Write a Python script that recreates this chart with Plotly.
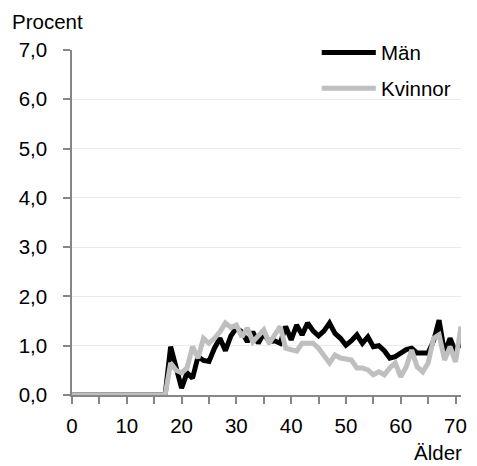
import plotly.graph_objects as go

ages = list(range(0, 72))
man = [0.0]*18 + [
    0.98, 0.55, 0.14, 0.45, 0.34, 0.78, 0.70, 0.68, 0.95, 1.15,
    0.90, 1.20, 1.36, 1.28, 1.08, 1.28, 1.05, 1.25, 1.08, 1.10,
    1.05, 1.39, 1.12, 1.42, 1.22, 1.46, 1.30, 1.20, 1.30, 1.46,
    1.25, 1.15, 1.01, 1.10, 1.22, 1.05, 1.18, 0.98, 1.00, 0.90,
    0.75, 0.78, 0.85, 0.92, 0.95, 0.85, 0.85, 0.85, 1.10, 1.52,
    0.85, 1.15, 0.88, 1.08]
kvinnor = [0.0]*18 + [
    0.65, 0.50, 0.45, 0.55, 0.98, 0.75, 1.15, 1.05, 1.15, 1.28,
    1.46, 1.37, 1.42, 1.18, 1.36, 1.08, 1.20, 1.32, 1.05, 1.20,
    1.39, 0.95, 0.92, 0.89, 1.05, 1.05, 1.05, 0.95, 0.81, 0.65,
    0.81, 0.75, 0.73, 0.71, 0.55, 0.55, 0.51, 0.41, 0.47, 0.41,
    0.55, 0.65, 0.37, 0.57, 0.91, 0.57, 0.47, 0.65, 1.15, 1.22,
    0.71, 0.98, 0.67, 1.39]

series_names = ["Män", "Kvinnor"]
series_colors = ["#000000", "#bfbfbf"]

y_ticks = [0, 1, 2, 3, 4, 5, 6, 7]
y_labels = ["0,0", "1,0", "2,0", "3,0", "4,0", "5,0", "6,0", "7,0"]
x_ticks = [0, 10, 20, 30, 40, 50, 60, 70]
x_labels = ["0", "10", "20", "30", "40", "50", "60", "70"]
x_minor = [5, 15, 25, 35, 45, 55, 65]

FONT = "Liberation Sans, Arial, sans-serif"
FS = 20.5

fig = go.Figure()
for name, vals, col in zip(series_names, [man, kvinnor], series_colors):
    fig.add_trace(go.Scatter(x=ages, y=vals, mode="lines", name=name,
                             line=dict(color=col, width=5)))

# manual legend (long line samples as in the reference)
shapes = []
annotations = []
leg_y = [0.993, 0.889]
for name, col, yy in zip(series_names, series_colors, leg_y):
    shapes.append(dict(type="line", xref="paper", yref="paper",
                       x0=0.642, x1=0.781, y0=yy, y1=yy,
                       line=dict(color=col, width=5)))
    annotations.append(dict(text=name, xref="paper", yref="paper", x=0.789, y=yy,
                            xanchor="left", yanchor="middle", showarrow=False,
                            font=dict(size=FS)))

annotations.append(dict(text="Procent", xref="paper", yref="paper", x=-0.16, y=1.083,
                        xanchor="left", yanchor="middle", showarrow=False,
                        font=dict(size=FS)))
annotations.append(dict(text="Älder", xref="paper", yref="paper", x=1.008, y=-0.168,
                        xanchor="right", yanchor="middle", showarrow=False,
                        font=dict(size=FS)))

axis_col = "#868686"
fig.update_layout(
    width=477, height=466,
    margin=dict(l=72, r=10, t=50, b=71),
    paper_bgcolor="white", plot_bgcolor="white",
    font=dict(family=FONT, size=FS, color="#000000"),
    showlegend=False,
    xaxis=dict(range=[0, 71], tickmode="array", tickvals=x_ticks, ticktext=x_labels,
               showgrid=False, zeroline=False, showline=True, linecolor=axis_col,
               linewidth=1.5, ticks="outside", ticklen=7, tickcolor=axis_col,
               tickwidth=1.5, ticklabelstandoff=5,
               minor=dict(tickmode="array", tickvals=x_minor,
                          ticks="outside", ticklen=7, tickcolor=axis_col, tickwidth=1.5),
               tickfont=dict(size=FS)),
    yaxis=dict(range=[0, 7], tickmode="array", tickvals=y_ticks, ticktext=y_labels,
               showgrid=True, gridcolor="#ebebeb", gridwidth=1, zeroline=False,
               showline=True, linecolor=axis_col, linewidth=1.5,
               ticks="outside", ticklen=7, tickcolor=axis_col, tickwidth=1.5,
               ticklabelstandoff=12,
               tickfont=dict(size=FS)),
    shapes=shapes,
    annotations=annotations,
)

fig.write_html("out.html",
               config={"displayModeBar": False},
               post_script="document.body.style.margin='0px';"
                           "document.body.style.overflow='hidden';")
